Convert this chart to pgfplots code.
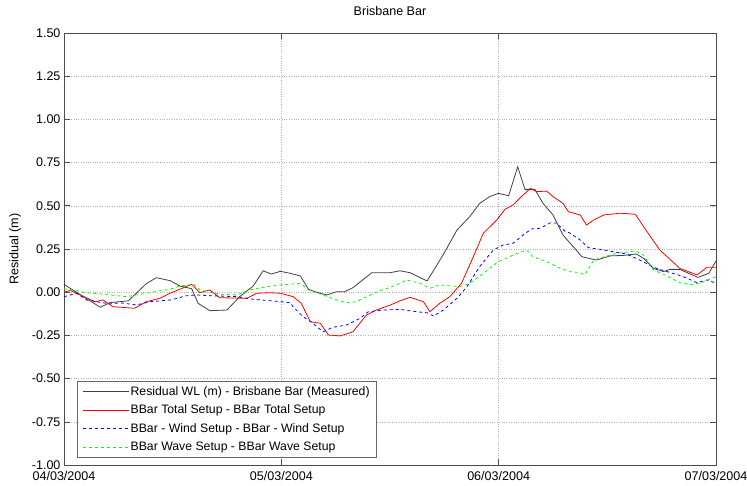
\documentclass[border=0pt]{standalone}
\usepackage{pgfplots}
\pgfplotsset{compat=1.18}
\usepackage{fontspec}
\setmainfont{Liberation Sans}
\begin{document}
\begin{tikzpicture}[font=\fontsize{12.6}{14}\selectfont]
\useasboundingbox (-64bp,-21bp) rectangle (683bp,465bp);
\begin{axis}[
  scale only axis,
  width=652bp, height=432bp,
  at={(0,0)}, anchor=south west,
  xmin=0, xmax=72, ymin=-1, ymax=1.5,
  xtick={0,24,48,72},
  xticklabels={04/03/2004,05/03/2004,06/03/2004,07/03/2004},
  ytick={-1,-0.75,-0.5,-0.25,0,0.25,0.5,0.75,1,1.25,1.5},
  yticklabel style={/pgf/number format/.cd, fixed, fixed zerofill, precision=2, assume math mode=true},
  tick label style={font=\fontsize{12.6}{14}\selectfont},
  label style={font=\fontsize{12.6}{14}\selectfont},
  tick align=inside,
  major tick length=6bp,
  grid=major,
  major grid style={black!30, dotted, line width=0.5pt},
  axis line style={black!70, line width=0.8pt},
  tick style={black!70, line width=0.6pt},
  title={Brisbane Bar},
  title style={at={(axis description cs:0.5,1.037)}, anchor=center, font=\fontsize{12.6}{14}\selectfont},
  ylabel={Residual (m)},
  ylabel style={at={(axis description cs:-0.075,0.5)}, anchor=center},
  xticklabel style={yshift=-3bp},
  legend style={at={(axis description cs:0.02,0.016)}, anchor=south west, draw=black!60, line width=0.6pt, font=\fontsize{12.3}{14}\selectfont, row sep=5.2bp, inner xsep=5bp, inner ysep=4bp, nodes={inner sep=1.5bp}},
  legend cell align=left,
  legend image code/.code={\draw[#1] plot coordinates {(0bp,0bp) (23bp,0bp) (46bp,0bp)};},
]
\addplot[black!75, line width=0.8pt] coordinates {
(0,0.045) (4.0,-0.087) (5.1,-0.06) (7.1,-0.05) (9.1,0.05) (10.2,0.084) (11.7,0.067) (12.8,0.036)
(14.1,0.02) (14.8,-0.064) (16.1,-0.107) (18.0,-0.103) (19.4,-0.026) (20.9,0.036) (22.0,0.124)
(22.9,0.105) (23.9,0.121) (25.0,0.109) (26.1,0.094) (27.0,0.017) (27.7,0.003) (29.0,-0.016)
(30.1,0.003) (31.0,0.003) (31.9,0.026) (34.0,0.113) (36.0,0.113) (37.1,0.124) (38.2,0.113)
(40.1,0.065) (41.9,0.219) (43.4,0.36) (44.8,0.437) (45.9,0.514) (47.0,0.553) (48.0,0.572)
(49.1,0.558) (50.1,0.726) (50.9,0.595) (52.0,0.595) (52.9,0.514) (54.0,0.447) (55.1,0.331)
(57.2,0.205) (58.8,0.186) (60.3,0.21) (61.8,0.213) (63.2,0.221) (64.0,0.196) (65.1,0.138)
(66.2,0.119) (66.9,0.132) (68.0,0.132) (70.0,0.086) (71.2,0.109) (72.0,0.18)
};
\addlegendentry{Residual WL (m) - Brisbane Bar (Measured)}
\addplot[red, line width=0.8pt] coordinates {
(0,0.0) (0.7,0.01) (1.8,-0.016) (3.4,-0.055) (4.3,-0.045) (5.4,-0.084) (7.8,-0.093) (9.1,-0.055)
(10.6,-0.035) (11.7,-0.006) (12.8,0.017) (14.1,0.046) (15.0,-0.003) (16.1,0.013) (17.2,-0.032)
(20.2,-0.035) (21.3,-0.006) (22.7,-0.003) (23.9,-0.006) (25.3,-0.026) (26.2,-0.064) (27.2,-0.171)
(28.3,-0.18) (29.2,-0.248) (30.5,-0.253) (31.9,-0.229) (33.4,-0.132) (34.5,-0.103) (36.0,-0.075)
(37.1,-0.05) (38.2,-0.03) (39.7,-0.055) (40.4,-0.113) (41.5,-0.064) (42.6,-0.026) (43.9,0.052)
(45.2,0.205) (46.3,0.341) (47.8,0.418) (48.7,0.48) (49.6,0.505) (50.5,0.553) (51.5,0.601)
(52.2,0.582) (53.3,0.585) (54.0,0.553) (55.1,0.514) (55.7,0.466) (57.0,0.447) (57.7,0.389)
(58.5,0.418) (59.6,0.447) (61.4,0.457) (63.1,0.451) (64.0,0.379) (65.8,0.244) (68.0,0.138)
(69.9,0.1) (71.0,0.144) (72.0,0.144)
};
\addlegendentry{BBar Total Setup - BBar Total Setup}
\addplot[blue, dashed, line width=0.8pt] coordinates {
(0,-0.026) (1.4,-0.006) (2.5,-0.045) (3.6,-0.055) (5.1,-0.068) (6.2,-0.061) (8.0,-0.074)
(9.5,-0.055) (11.7,-0.045) (12.8,-0.032) (13.2,-0.022) (14.7,-0.016) (16.1,-0.02) (19.1,-0.026)
(20.9,-0.041) (22.7,-0.049) (24.0,-0.055) (25.0,-0.061) (25.3,-0.084) (26.4,-0.142) (27.4,-0.176)
(28.6,-0.229) (29.7,-0.203) (31.2,-0.19) (32.7,-0.151) (33.6,-0.113) (35.3,-0.103) (37.1,-0.099)
(38.9,-0.113) (40.1,-0.119) (40.8,-0.138) (41.9,-0.103) (43.4,-0.035) (44.5,0.032) (45.9,0.148)
(47.4,0.244) (48.5,0.273) (49.6,0.283) (50.7,0.331) (51.6,0.366) (52.6,0.37) (53.7,0.402)
(54.4,0.40) (55.3,0.354) (55.9,0.341) (57.0,0.302) (57.9,0.258) (59.2,0.248) (60.7,0.234)
(62.1,0.221) (63.6,0.186) (65.1,0.144) (66.6,0.119) (68.4,0.09) (69.9,0.055) (71.0,0.071) (72.0,0.052)
};
\addlegendentry{BBar - Wind Setup - BBar - Wind Setup}
\addplot[green, dashed, line width=0.8pt] coordinates {
(0,0.02) (1.4,0.009) (2.5,-0.003) (5.1,-0.016) (6.9,-0.026) (9.1,-0.006) (10.6,0.009) (11.7,0.017)
(12.8,0.036) (14.3,0.046) (15.0,0.013) (17.2,-0.012) (19.1,-0.016) (20.5,0.013) (22.4,0.032)
(23.9,0.042) (26.1,0.051) (27.0,0.013) (28.6,-0.016) (30.1,-0.045) (31.2,-0.061) (32.3,-0.055)
(33.4,-0.026) (34.9,0.009) (36.0,0.028) (37.1,0.051) (37.8,0.071) (39.3,0.051) (40.4,0.023)
(41.5,0.042) (43.7,0.032) (44.8,0.051) (46.3,0.109) (47.8,0.171) (48.2,0.182) (49.6,0.215)
(51.1,0.244) (51.8,0.205) (53.3,0.177) (54.8,0.138) (55.9,0.119) (57.0,0.113) (57.5,0.1)
(58.5,0.186) (59.6,0.205) (61.0,0.225) (63.1,0.238) (64.0,0.215) (65.1,0.128) (66.2,0.104)
(68.0,0.055) (69.5,0.042) (70.6,0.061) (72.0,0.09)
};
\addlegendentry{BBar Wave Setup - BBar Wave Setup}
\end{axis}
\end{tikzpicture}
\end{document}
